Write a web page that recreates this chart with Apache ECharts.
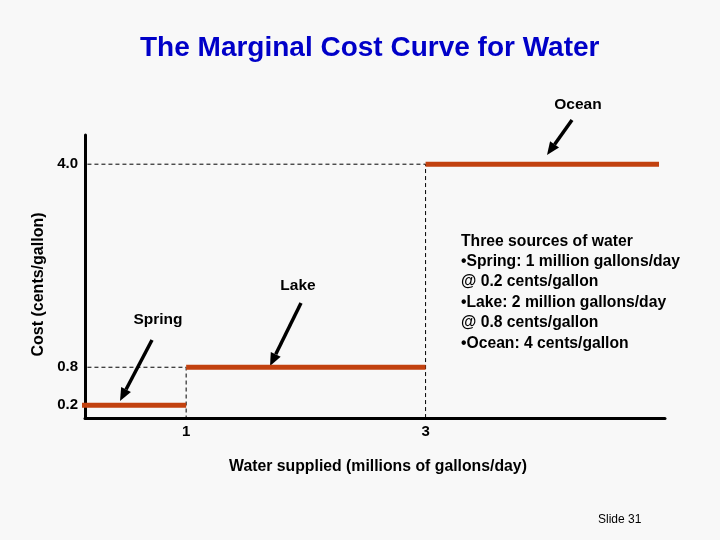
<!DOCTYPE html>
<html>
<head>
<meta charset="utf-8">
<script src="https://cdn.jsdelivr.net/npm/echarts@6/dist/echarts.min.js"></script>
<style>
  html, body { margin: 0; padding: 0; background: #f8f8f8; }
  #chart { width: 720px; height: 540px; }
</style>
</head>
<body>
<div id="chart"></div>
<script>
// water sources: each supplies a block of water at a flat marginal cost
const sources = ['Spring', 'Lake', 'Ocean']
const qtyStart = [0, 1, 3]        // millions of gallons/day
const qtyEnd = [1, 3, 4.95]
const cost = [0.2, 0.8, 4.0]      // cents/gallon
const xTicks = [1, 3]
const yTicks = [0.2, 0.8, 4.0]
const xRange = [0.155, 5.0]
const yRange = [0, 4.46]

const noteLines = [
  'Three sources of water',
  '\u2022Spring: 1 million gallons/day',
  '@ 0.2 cents/gallon',
  '\u2022Lake: 2 million gallons/day',
  '@ 0.8 cents/gallon',
  '\u2022Ocean: 4 cents/gallon'
]

let stepColor = '#c2410f'
let font = 'Liberation Sans, Arial, Helvetica, sans-serif'

let chart = echarts.init(document.getElementById('chart'))

let series = []
sources.forEach((name, i) => {
  series.push({
    name: name,
    type: 'line',
    symbol: 'none',
    clip: true,
    lineStyle: { color: stepColor, width: 5, cap: 'butt' },
    data: [[qtyStart[i], cost[i]], [qtyEnd[i], cost[i]]],
    z: 5
  })
  // dashed guides from the axes to where the step starts
  if (qtyStart[i] > 0) {
    series.push({
      type: 'line',
      symbol: 'none',
      clip: true,
      silent: true,
      lineStyle: { color: '#000', width: 1, type: [4, 3] },
      data: [[0, cost[i]], [qtyStart[i], cost[i]], [qtyStart[i], 0]],
      z: 3
    })
  }
})

// arrow = line + filled head, pixel positions of the slide callouts
function arrow(x1, y1, x2, y2) {
  let ang = Math.atan2(y2 - y1, x2 - x1)
  let len = 13, half = 5.5
  let bx = x2 - len * Math.cos(ang), by = y2 - len * Math.sin(ang)
  let px = -Math.sin(ang) * half, py = Math.cos(ang) * half
  return {
    type: 'group',
    children: [
      { type: 'line', shape: { x1: x1, y1: y1, x2: bx, y2: by }, style: { stroke: '#000', lineWidth: 3.5 } },
      { type: 'polygon', shape: { points: [[x2, y2], [bx + px, by + py], [bx - px, by - py]] }, style: { fill: '#000' } }
    ]
  }
}

function label(text, x, y) {
  return {
    type: 'text', x: x, y: y,
    style: { text: text, font: 'bold 15.5px ' + font, fill: '#000', align: 'center', verticalAlign: 'middle' }
  }
}

let graphics = [
  label('Ocean', 578, 105), arrow(572, 120, 547, 155),
  label('Lake', 298, 286), arrow(301, 303, 270, 366),
  label('Spring', 158, 320), arrow(152, 340, 120, 401),
  {
    type: 'text', left: 461, top: 231,
    style: { text: noteLines.join('\n'), font: 'bold 15.7px ' + font, lineHeight: 20.4, fill: '#000' }
  },
  {
    type: 'text', left: 598, top: 514,
    style: { text: 'Slide 31', font: '12px ' + font, fill: '#000' }
  }
]

const options = {
  backgroundColor: '#f8f8f8',
  animation: false,
  title: {
    text: 'The Marginal Cost Curve for Water',
    left: 135,
    top: 29,
    textStyle: { color: '#0000c8', fontSize: 28, fontWeight: 'bold', fontFamily: font }
  },
  grid: { left: 85, right: 55, top: 135, bottom: 122 },
  xAxis: {
    type: 'value',
    min: xRange[0],
    max: xRange[1],
    name: 'Water supplied (millions of gallons/day)',
    nameLocation: 'middle',
    nameGap: 41,
    nameTextStyle: { color: '#000', fontSize: 15.8, fontWeight: 'bold', fontFamily: font, padding: [0, 0, 0, 6] },
    axisLine: { onZero: false, lineStyle: { color: '#000', width: 3 } },
    axisTick: { show: false },
    splitLine: { show: false },
    axisLabel: {
      customValues: xTicks,
      color: '#000', fontSize: 15, fontWeight: 'bold', fontFamily: font, margin: 6
    }
  },
  yAxis: {
    type: 'value',
    min: yRange[0],
    max: yRange[1],
    name: 'Cost (cents/gallon)',
    nameLocation: 'middle',
    nameGap: 37,
    nameTextStyle: { color: '#000', fontSize: 16, fontWeight: 'bold', fontFamily: font, padding: [0, 16, 0, 0] },
    axisLine: { show: true, lineStyle: { color: '#000', width: 3 } },
    axisTick: { show: false },
    splitLine: { show: false },
    axisLabel: {
      customValues: yTicks,
      formatter: v => v.toFixed(1),
      color: '#000', fontSize: 15, fontWeight: 'bold', fontFamily: font, margin: 7
    }
  },
  graphic: graphics,
  series: series
}

chart.setOption(options)
</script>
</body>
</html>
